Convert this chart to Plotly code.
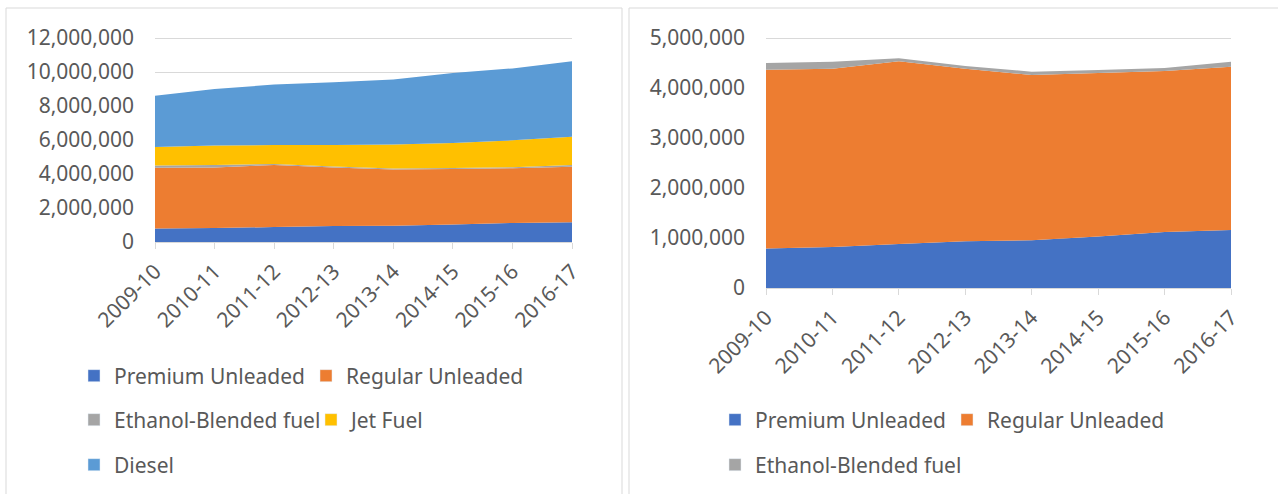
import plotly.graph_objects as go

years = ["2009-10", "2010-11", "2011-12", "2012-13", "2013-14", "2014-15", "2015-16", "2016-17"]

premium = [790000, 820000, 880000, 935000, 955000, 1030000, 1120000, 1160000]
regular = [3576000, 3566000, 3653000, 3450000, 3304000, 3269000, 3219000, 3266000]
ethanol = [133000, 140000, 60000, 55000, 67000, 61000, 61000, 100000]
jet_fuel = [1090000, 1150000, 1110000, 1260000, 1410000, 1460000, 1580000, 1660000]
diesel = [3020000, 3320000, 3560000, 3690000, 3830000, 4120000, 4230000, 4450000]

COLORS = {
    "Premium Unleaded": "#4472C4",
    "Regular Unleaded": "#ED7D31",
    "Ethanol-Blended fuel": "#A5A5A5",
    "Jet Fuel": "#FFC000",
    "Diesel": "#5B9BD5",
}

W, H = 1278, 494
FONT = "Noto Sans"
TXT = "#595959"
GRID = "#D9D9D9"


def px_x(v):
    return v / W


def px_y(v):
    return 1 - v / H


left_series = [
    ("Premium Unleaded", premium),
    ("Regular Unleaded", regular),
    ("Ethanol-Blended fuel", ethanol),
    ("Jet Fuel", jet_fuel),
    ("Diesel", diesel),
]
right_series = left_series[:3]

# legend rows: (legend id, y centre px, x of first square px, column width px, names)
left_rows = [
    ("legend", 376, 88, 187, ["Premium Unleaded", "Regular Unleaded"]),
    ("legend2", 420, 88, 192, ["Ethanol-Blended fuel", "Jet Fuel"]),
    ("legend3", 465, 88, 320, ["Diesel"]),
]
right_rows = [
    ("legend4", 420, 729, 187, ["Premium Unleaded", "Regular Unleaded"]),
    ("legend5", 465, 729, 320, ["Ethanol-Blended fuel"]),
]

fig = go.Figure()


def add_chart(series, xa, ya, group, rows):
    for name, vals in series:
        fig.add_trace(go.Scatter(
            x=years, y=vals, name=name, stackgroup=group, mode="none",
            fillcolor=COLORS[name], line=dict(width=0),
            xaxis=xa, yaxis=ya, showlegend=False, hoverinfo="x+y+name",
        ))
    for leg, _, _, _, names in rows:
        for name in names:
            fig.add_trace(go.Bar(
                x=[None], y=[None], name=name, marker_color=COLORS[name],
                xaxis=xa, yaxis=ya, legend=leg, showlegend=True,
            ))


add_chart(left_series, "x", "y", "left", left_rows)
add_chart(right_series, "x2", "y2", "right", right_rows)

axis_font = dict(family=FONT, size=21, color=TXT)
xcommon = dict(
    type="category", range=[0, 7], tickangle=-45, ticks="outside", ticklen=6,
    tickcolor=GRID, showline=True, linecolor=GRID, linewidth=1, showgrid=False,
    tickfont=axis_font, fixedrange=True, ticklabelstandoff=2, automargin=False,
)
ycommon = dict(
    tickformat=",", showgrid=True, gridcolor=GRID, gridwidth=1, zeroline=False,
    showline=False, ticks="", tickfont=axis_font, ticklabelstandoff=20, automargin=False,
    fixedrange=True,
)

legends = {}
for leg, ypx, xpx, ew, names in left_rows + right_rows:
    legends[leg] = dict(
        orientation="h", xref="container", yref="container",
        x=px_x(xpx - 14), xanchor="left", y=px_y(ypx), yanchor="middle",
        entrywidth=ew, entrywidthmode="pixels", traceorder="normal",
        font=dict(family=FONT, size=21, color=TXT),
        bgcolor="rgba(0,0,0,0)", borderwidth=0, itemclick=False, itemdoubleclick=False,
    )

fig.update_layout(
    width=W, height=H,
    margin=dict(l=0, r=0, t=0, b=0, autoexpand=False),
    paper_bgcolor="white", plot_bgcolor="white",
    font=dict(family=FONT, color=TXT),
    # ranges padded a touch above the top tick so its gridline is drawn
    xaxis=dict(domain=[px_x(155), px_x(572)], anchor="y", **xcommon),
    yaxis=dict(domain=[px_y(242), px_y(36.3)], anchor="x", range=[0, 12100000], dtick=2000000, **ycommon),
    xaxis2=dict(domain=[px_x(766), px_x(1231)], anchor="y2", **xcommon),
    yaxis2=dict(domain=[px_y(288), px_y(36)], anchor="x2", range=[0, 5040000], dtick=1000000, **ycommon),
    shapes=[
        dict(type="rect", xref="paper", yref="paper", x0=px_x(6), x1=px_x(622), y0=-0.05, y1=px_y(8),
             line=dict(color=GRID, width=1), layer="below"),
        dict(type="rect", xref="paper", yref="paper", x0=px_x(629), x1=1.05, y0=-0.05, y1=px_y(8),
             line=dict(color=GRID, width=1), layer="below"),
    ],
    **legends,
)

fig.write_html(
    "out.html",
    config={"displayModeBar": False},
    post_script="document.body.style.margin = '0';",
)
